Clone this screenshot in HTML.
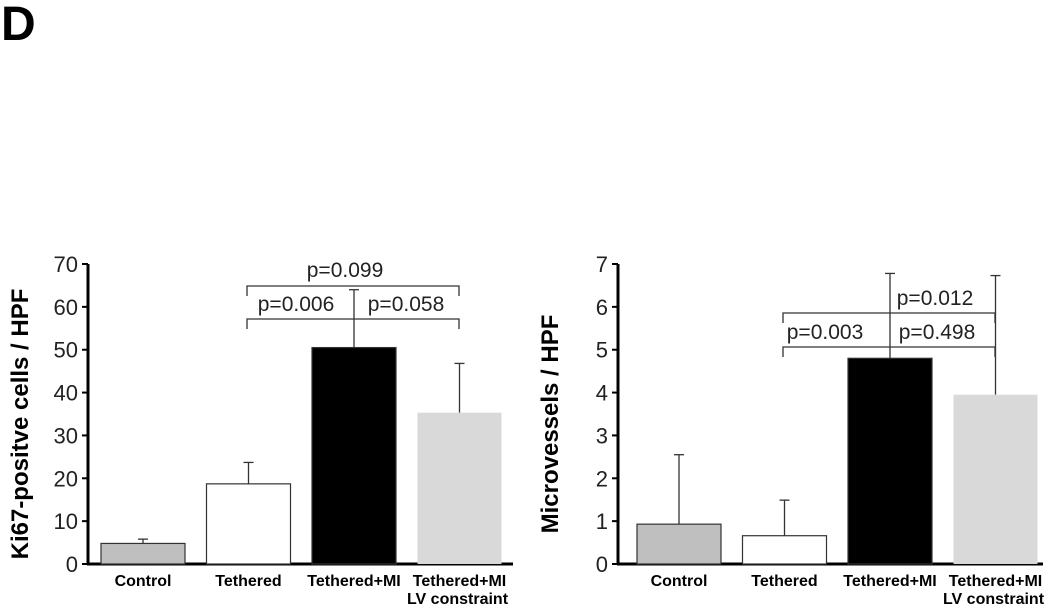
<!DOCTYPE html>
<html><head><meta charset="utf-8"><style>
body{margin:0;background:#fff;width:1050px;height:607px;overflow:hidden;font-family:"Liberation Sans",sans-serif}
</style></head><body>
<svg width="1050" height="607" xmlns="http://www.w3.org/2000/svg">
<text x="1" y="40" font-size="48" font-weight="bold" font-family="Liberation Sans">D</text>
<g id="c1"></g>
<g id="c2"></g>
</svg>
<script>
const categories=["Control","Tethered","Tethered+MI","Tethered+MI|LV constraint"];
const kiValues=[4.8,18.7,50.5,35.3];
const kiErrTop=[5.8,23.7,64,46.8];
const kiTicks=[0,10,20,30,40,50,60,70];
const mvValues=[0.93,0.66,4.8,3.95];
const mvErrTop=[2.55,1.49,6.78,6.73];
const mvTicks=[0,1,2,3,4,5,6,7];
const fills=["#bfbfbf","#ffffff","#000000","#d9d9d9"];
const NS="http://www.w3.org/2000/svg";
function mk(p,t,a){const e=document.createElementNS(NS,t);for(const k in a)e.setAttribute(k,a[k]);p.appendChild(e);return e;}
function chart(g,cfg){
  const y=v=>cfg.y0-(v/cfg.max)*(cfg.y0-cfg.yTop);
  const bx=i=>cfg.bx0+i*cfg.step;
  const ya=mk(g,"line",{x1:cfg.ax,x2:cfg.ax,y1:cfg.yTop,y2:cfg.y0+1,stroke:"#000","stroke-width":3});
  
  
  const xa=mk(g,"line",{x1:cfg.ax-1,x2:cfg.ax+425,y1:cfg.y0,y2:cfg.y0,stroke:"#000","stroke-width":3});
  
  
  cfg.ticks.forEach(t=>{
    mk(g,"line",{x1:cfg.ax-6,x2:cfg.ax,y1:y(t),y2:y(t),stroke:"#000","stroke-width":2});
    const tx=mk(g,"text",{x:cfg.ax-10,y:y(t)+8,"text-anchor":"end","font-size":22,fill:"#222"});
    tx.textContent=t;
    
    
  });
  const ttl=mk(g,"text",{transform:`translate(${cfg.titleX},${(cfg.y0+cfg.yTop)/2+10}) rotate(-90)`,"text-anchor":"middle","font-size":24,"font-weight":"bold"});
  ttl.textContent=cfg.title;
  
  
  cfg.vals.forEach((v,i)=>{
    const x=bx(i),cx=x+cfg.bw/2;
    const er=mk(g,"line",{x1:cx,x2:cx,y1:y(v),y2:y(cfg.err[i]),stroke:"#333","stroke-width":1.3});
    
    
    mk(g,"line",{x1:cx-5,x2:cx+5,y1:y(cfg.err[i]),y2:y(cfg.err[i]),stroke:"#333","stroke-width":1.3});
    const r=mk(g,"rect",{x:x,y:y(v),width:cfg.bw,height:cfg.y0-y(v),fill:fills[i],stroke:i==3?"none":"#333","stroke-width":1.2});
    
    
    const parts=categories[i].split("|");
    parts.forEach((p,j)=>{
      const t=mk(g,"text",{x:cx+(j?-2:0),y:cfg.y0+22+j*18,"text-anchor":"middle","font-size":16,"font-weight":"bold"});
      t.textContent=p;
      
      
    });
  });
  cfg.brackets.forEach(b=>{
    const pth=mk(g,"path",{d:`M${b.x1},${b.y+10}V${b.y}H${b.x2}V${b.y+10}`,fill:"none",stroke:"#333","stroke-width":1.3});
    
    
  });
  cfg.labels.forEach(l=>{
    const t=mk(g,"text",{x:l.x,y:l.y,"text-anchor":"middle","font-size":21,fill:"#222"});
    t.textContent=l.t;
    
    
  });
}
chart(document.getElementById("c1"),{ax:88,y0:564,yTop:264,max:70,bx0:101,step:105.5,bw:84,vals:kiValues,err:kiErrTop,ticks:kiTicks,title:"Ki67-positve cells / HPF",titleX:28,
 brackets:[{x1:247,x2:459,y:286},{x1:247,x2:459,y:319}],
 labels:[{t:"p=0.099",x:345,y:277},{t:"p=0.006",x:296,y:311},{t:"p=0.058",x:406,y:311}]});
chart(document.getElementById("c2"),{ax:618,y0:564,yTop:264,max:7,bx0:637,step:105.5,bw:84,vals:mvValues,err:mvErrTop,ticks:mvTicks,title:"Microvessels / HPF",titleX:558,
 brackets:[{x1:783,x2:995,y:313},{x1:783,x2:995,y:347}],
 labels:[{t:"p=0.012",x:935,y:305},{t:"p=0.003",x:825,y:339},{t:"p=0.498",x:937,y:339}]});
</script>
</body></html>
